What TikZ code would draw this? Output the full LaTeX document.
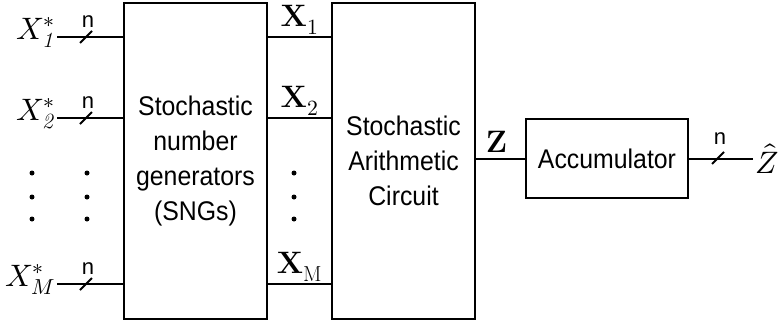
\documentclass[tikz,border=0pt]{standalone}
\usepackage{unicode-math}
\newfontfamily\boxfont[FakeStretch=0.92]{Liberation Sans}
\newfontfamily\buslblfont{Liberation Sans}
\usetikzlibrary{positioning}

\begin{document}
\begin{tikzpicture}[
  x=1pt, y=-1pt,
  line width=2pt,
  block/.style={draw, line width=2.5pt, align=center, inner sep=0pt, font=\boxfont\fontsize{27}{35}\selectfont},
  mathlbl/.style={inner sep=2pt, font=\fontsize{31}{32}\selectfont},
  buswidth/.style={inner sep=0pt, font=\buslblfont\fontsize{22}{24}\selectfont},
  dot/.style={circle, fill, inner sep=0pt, minimum size=5pt}
]
\useasboundingbox (0,0) rectangle (778,324);

% blocks
\node[block, minimum width=143pt, minimum height=316pt] (sng) at (195.5,161) {Stochastic\\number\\generators\\(SNGs)};
\node[block, minimum width=143pt, minimum height=316pt] (sac) at (403.5,161) {Stochastic\\Arithmetic\\Circuit};
\node[block, minimum width=162pt, minimum height=79pt] (acc) at (607,158.5) {Accumulator};

% inputs
\foreach \i/\yy/\lbl in {1/37/{X_{\mathit{1}}^*}, 2/118/{X_{\mathit{2}}^*}, M/284/{X_M^*}} {
  \coordinate (in\i) at (57,\yy);
  \draw (in\i) -- (in\i -| sng.west);
  \draw (80,\yy+6) -- (92,\yy-6);
  \node[buswidth] at (88,\yy-15) {n};
  \node[mathlbl, anchor=base east, inner sep=1pt] at ([yshift=-2pt]in\i) {$\lbl$};
}

% stochastic streams
\foreach \i/\lbl in {1/1, 2/2, M/\mathrm{M}}
  \draw (in\i -| sng.east) -- (in\i -| sac.west) node[midway, above, mathlbl] {$\mathbf{X}_{\lbl}$};

\foreach \xx in {32,87,294}
  \foreach \yy in {173,197,219}
    \node[dot] at (\xx,\yy) {};

% output
\draw (acc.west) -- (acc.west -| sac.east) node[midway, above=3pt, mathlbl, xshift=-4pt] {$\mathbf{Z}$};
\coordinate (zout) at ([xshift=64pt]acc.east);
\draw (acc.east) -- (zout);
\draw (712,164) -- (724,152);
\node[buswidth] at (720,139) {n};
\node[mathlbl, anchor=west, inner sep=1pt] at (zout) {$\hat{Z}$};
\end{tikzpicture}
\end{document}
